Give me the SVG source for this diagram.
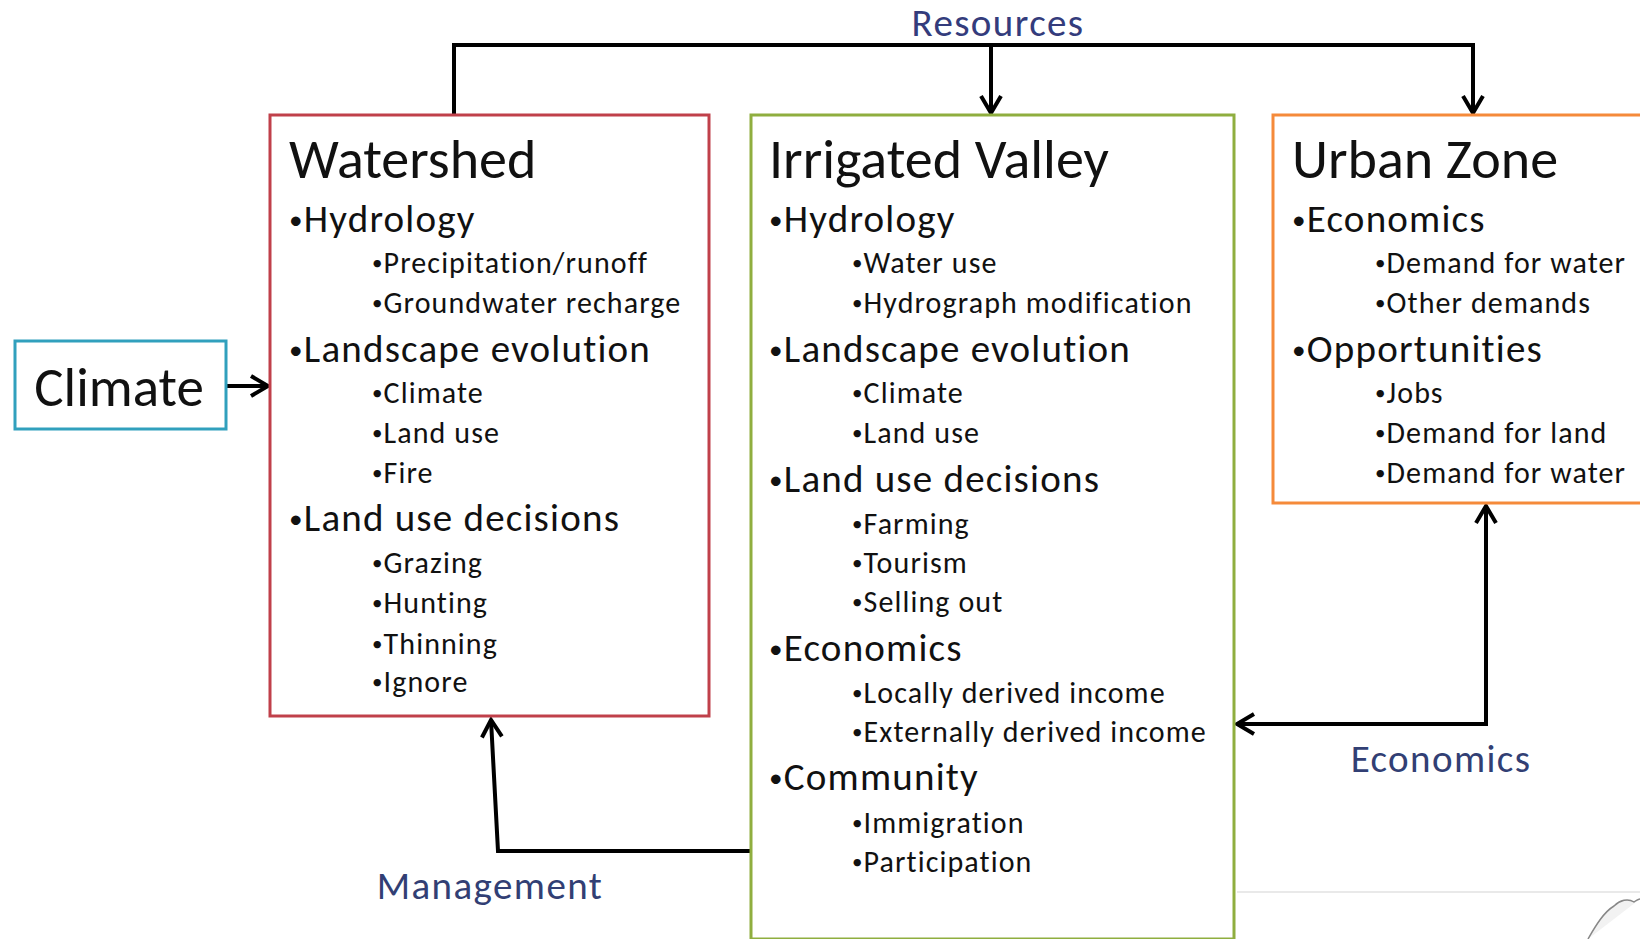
<svg xmlns="http://www.w3.org/2000/svg" width="1640" height="939" viewBox="0 0 1640 939">
<defs>
<style>
text{font-family:Carlito,"Liberation Sans Narrow","Liberation Sans",sans-serif;fill:#111}
.t{font-size:56px}
.l1{font-size:39px;letter-spacing:1.2px}
.l2{font-size:30px;letter-spacing:1.1px}
.b{font-size:70%;baseline-shift:12%}
.lab{font-size:39px;fill:#323f74;letter-spacing:1.4px}
.box{fill:#fff;stroke-width:3}
.con{fill:none;stroke:#000;stroke-width:4}
</style>
<marker id="arr" viewBox="0 0 26 26" refX="23" refY="13" markerWidth="26" markerHeight="26" orient="auto-start-reverse" markerUnits="userSpaceOnUse">
<path d="M6,3 L23,13 L6,23" fill="none" stroke="#000" stroke-width="4" stroke-linejoin="miter"/>
</marker>
</defs>
<rect width="1640" height="939" fill="#fff"/>
<line x1="1237" y1="892" x2="1640" y2="892" stroke="#e2e2e2" stroke-width="1.5"/>
<path d="M1588,939 C1596,925 1604,912 1614,906 C1620,900 1628,898 1634,902 C1637,900 1639,899 1640,899" fill="#f2f2f2" stroke="#888" stroke-width="1.5"/>

<g id="connectors">
<path class="con" d="M454,116 V45 H1473 V113" marker-end="url(#arr)"/>
<path class="con" d="M991,45 V113" marker-end="url(#arr)"/>
<path class="con" d="M226,386 H268" marker-end="url(#arr)"/>
<path class="con" d="M751,851 H498 L491,720" marker-end="url(#arr)"/>
<path class="con" d="M1486,506 V724 H1237" marker-start="url(#arr)" marker-end="url(#arr)"/>
<text class="lab" x="998" y="36" text-anchor="middle" style="fill:#343c7c">Resources</text>
<text class="lab" x="490" y="899" text-anchor="middle">Management</text>
<text class="lab" x="1441" y="772" text-anchor="middle">Economics</text>
</g>

<g id="climate">
<rect class="box" x="15" y="341" width="211" height="88" stroke="#31a0bd"/>
<text x="119" y="406" text-anchor="middle" font-size="55">Climate</text>
</g>

<g id="watershed">
<rect class="box" x="270" y="115" width="439" height="601" stroke="#c0404a"/>
<text class="t" x="289" y="178">Watershed</text>
<text class="l1" x="289" y="232"><tspan class="b">•</tspan>Hydrology</text>
<text class="l2" x="372" y="273"><tspan class="b">•</tspan>Precipitation/runoff</text>
<text class="l2" x="372" y="313"><tspan class="b">•</tspan>Groundwater recharge</text>
<text class="l1" x="289" y="362"><tspan class="b">•</tspan>Landscape evolution</text>
<text class="l2" x="372" y="403"><tspan class="b">•</tspan>Climate</text>
<text class="l2" x="372" y="443"><tspan class="b">•</tspan>Land use</text>
<text class="l2" x="372" y="483"><tspan class="b">•</tspan>Fire</text>
<text class="l1" x="289" y="531"><tspan class="b">•</tspan>Land use decisions</text>
<text class="l2" x="372" y="573"><tspan class="b">•</tspan>Grazing</text>
<text class="l2" x="372" y="613"><tspan class="b">•</tspan>Hunting</text>
<text class="l2" x="372" y="654"><tspan class="b">•</tspan>Thinning</text>
<text class="l2" x="372" y="692"><tspan class="b">•</tspan>Ignore</text>
</g>

<g id="irrigated-valley">
<rect class="box" x="751" y="115" width="483" height="824" stroke="#8fae3f"/>
<text class="t" x="769" y="178">Irrigated Valley</text>
<text class="l1" x="769" y="232"><tspan class="b">•</tspan>Hydrology</text>
<text class="l2" x="852" y="273"><tspan class="b">•</tspan>Water use</text>
<text class="l2" x="852" y="313"><tspan class="b">•</tspan>Hydrograph modification</text>
<text class="l1" x="769" y="362"><tspan class="b">•</tspan>Landscape evolution</text>
<text class="l2" x="852" y="403"><tspan class="b">•</tspan>Climate</text>
<text class="l2" x="852" y="443"><tspan class="b">•</tspan>Land use</text>
<text class="l1" x="769" y="492"><tspan class="b">•</tspan>Land use decisions</text>
<text class="l2" x="852" y="534"><tspan class="b">•</tspan>Farming</text>
<text class="l2" x="852" y="573"><tspan class="b">•</tspan>Tourism</text>
<text class="l2" x="852" y="612"><tspan class="b">•</tspan>Selling out</text>
<text class="l1" x="769" y="661"><tspan class="b">•</tspan>Economics</text>
<text class="l2" x="852" y="703"><tspan class="b">•</tspan>Locally derived income</text>
<text class="l2" x="852" y="742"><tspan class="b">•</tspan>Externally derived income</text>
<text class="l1" x="769" y="790"><tspan class="b">•</tspan>Community</text>
<text class="l2" x="852" y="833"><tspan class="b">•</tspan>Immigration</text>
<text class="l2" x="852" y="872"><tspan class="b">•</tspan>Participation</text>
</g>

<g id="urban-zone">
<rect class="box" x="1273" y="115" width="380" height="388" stroke="#f58a3a"/>
<text class="t" x="1292" y="178">Urban Zone</text>
<text class="l1" x="1292" y="232"><tspan class="b">•</tspan>Economics</text>
<text class="l2" x="1375" y="273"><tspan class="b">•</tspan>Demand for water</text>
<text class="l2" x="1375" y="313"><tspan class="b">•</tspan>Other demands</text>
<text class="l1" x="1292" y="362"><tspan class="b">•</tspan>Opportunities</text>
<text class="l2" x="1375" y="403"><tspan class="b">•</tspan>Jobs</text>
<text class="l2" x="1375" y="443"><tspan class="b">•</tspan>Demand for land</text>
<text class="l2" x="1375" y="483"><tspan class="b">•</tspan>Demand for water</text>
</g>
</svg>
